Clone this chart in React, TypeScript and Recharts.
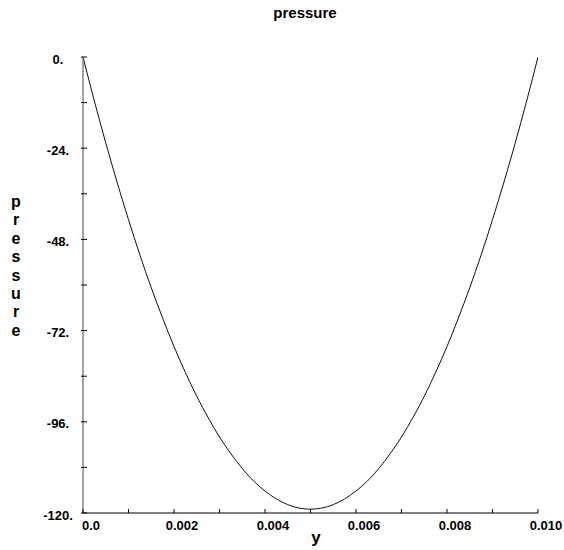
import { LineChart, Line, XAxis, YAxis, Customized } from 'recharts'

// position along the channel (m)
const yPos = [
  0, 0.00025, 0.0005, 0.00075, 0.001, 0.00125, 0.0015, 0.00175, 0.002, 0.00225,
  0.0025, 0.00275, 0.003, 0.00325, 0.0035, 0.00375, 0.004, 0.00425, 0.0045, 0.00475,
  0.005, 0.00525, 0.0055, 0.00575, 0.006, 0.00625, 0.0065, 0.00675, 0.007, 0.00725,
  0.0075, 0.00775, 0.008, 0.00825, 0.0085, 0.00875, 0.009, 0.00925, 0.0095, 0.00975, 0.01,
]
// pressure
const pressure = [
  0, -11.6, -22.6, -33.0, -42.8, -52.1, -60.7, -68.7, -76.2, -83.0,
  -89.3, -94.9, -100.0, -104.4, -108.3, -111.6, -114.2, -116.3, -117.8, -118.7,
  -119.0, -118.7, -117.8, -116.3, -114.2, -111.6, -108.3, -104.4, -100.0, -94.9,
  -89.3, -83.0, -76.2, -68.7, -60.7, -52.1, -42.8, -33.0, -22.6, -11.6, 0,
]

const xTicks = [0, 0.001, 0.002, 0.003, 0.004, 0.005, 0.006, 0.007, 0.008, 0.009, 0.01]
const xTickLabels = ['0.0', '', '0.002', '', '0.004', '', '0.006', '', '0.008', '', '0.010']
const yTicks = [-120, -108, -96, -84, -72, -60, -48, -36, -24, -12, 0]
const yTickLabels = ['-120.', '', '-96.', '', '-72.', '', '-48.', '', '-24.', '', '0.']

const title = 'pressure'
const yTitle = 'pressure'
const xTitle = 'y'

const data = yPos.map((y, i) => ({ y, p: pressure[i] }))

const FONT = '"Liberation Sans", Arial, Helvetica, sans-serif'

function XTick(props: any) {
  const { x, y, index } = props
  const label = xTickLabels[index]
  return (
    <g>
      <line x1={x} y1={y} x2={x} y2={y - 4} stroke="#000" strokeWidth={1} />
      {label && (
        <text x={x + 8} y={y + 17} textAnchor="middle" fontFamily={FONT} fontSize={13} fontWeight="bold" fill="#000">
          {label}
        </text>
      )}
    </g>
  )
}

function YTick(props: any) {
  const { x, y, index } = props
  const label = yTickLabels[index]
  return (
    <g>
      <line x1={x - 2} y1={y} x2={x + 4} y2={y} stroke="#000" strokeWidth={1} />
      {label && (
        <text x={x - 25} y={y + 2} textAnchor="middle" dominantBaseline="central" fontFamily={FONT} fontSize={13} fontWeight="bold" fill="#000">
          {label}
        </text>
      )}
    </g>
  )
}

function Titles() {
  return (
    <g fontFamily={FONT} fontWeight="bold" fill="#000">
      <text x={305} y={18} textAnchor="middle" fontSize={15}>{title}</text>
      <text x={316} y={543} textAnchor="middle" fontSize={17}>{xTitle}</text>
      {yTitle.split('').map((ch, i) => (
        <text key={i} x={16} y={207 + i * 18.4} textAnchor="middle" fontSize={16}>{ch}</text>
      ))}
    </g>
  )
}

export default function App() {
  return (
    <div style={{ position: 'absolute', left: 0, top: 0, background: '#fff' }}>
      <LineChart width={564} height={550} data={data} margin={{ top: 57, right: 26, bottom: 36, left: 0 }}>
        <XAxis
          type="number"
          dataKey="y"
          domain={[0, 0.01]}
          ticks={xTicks}
          height={1}
          tickSize={0}
          tickMargin={0}
          tickLine={false}
          axisLine={{ stroke: '#000', strokeWidth: 1 }}
          tick={<XTick />}
          interval={0}
          allowDataOverflow
        />
        <YAxis
          type="number"
          domain={[-120, 0]}
          ticks={yTicks}
          width={83}
          tickSize={0}
          tickMargin={0}
          tickLine={false}
          axisLine={{ stroke: '#666', strokeWidth: 1.2 }}
          tick={<YTick />}
          interval={0}
          allowDataOverflow
        />
        <Line type="monotone" dataKey="p" stroke="#111" strokeWidth={1} dot={false} isAnimationActive={false} />
        <Customized component={<Titles />} />
      </LineChart>
    </div>
  )
}
